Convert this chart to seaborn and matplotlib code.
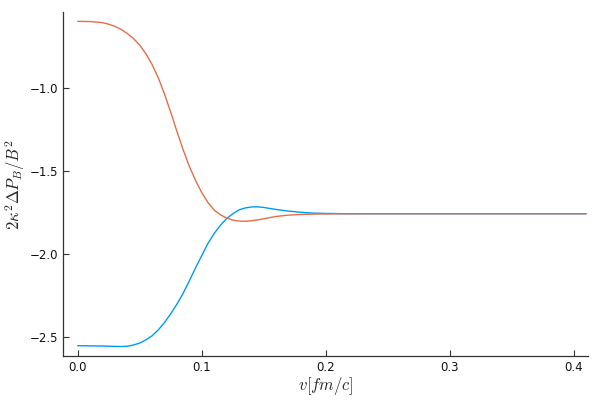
import numpy as np
import pandas as pd
import matplotlib
matplotlib.use('Agg')
import matplotlib.pyplot as plt
import seaborn as sns

# velocity grid and the two curves
v = [0.0, 0.01, 0.02, 0.025, 0.03, 0.035, 0.04, 0.045, 0.05, 0.055, 0.06,
     0.065, 0.07, 0.075, 0.08, 0.085, 0.09, 0.095, 0.10, 0.105, 0.11, 0.115,
     0.12, 0.125, 0.13, 0.135, 0.14, 0.145, 0.15, 0.155, 0.16, 0.17, 0.18,
     0.19, 0.20, 0.22, 0.25, 0.30, 0.35, 0.41]
upper = [-0.598, -0.599, -0.606, -0.615, -0.628, -0.646, -0.671, -0.701,
         -0.741, -0.793, -0.858, -0.938, -1.035, -1.145, -1.260, -1.370,
         -1.470, -1.555, -1.628, -1.688, -1.733, -1.762, -1.781, -1.794,
         -1.800, -1.801, -1.798, -1.793, -1.786, -1.779, -1.772, -1.764,
         -1.760, -1.758, -1.757, -1.756, -1.756, -1.756, -1.756, -1.756]
lower = [-2.550, -2.551, -2.552, -2.553, -2.554, -2.555, -2.553, -2.546,
         -2.534, -2.515, -2.490, -2.455, -2.410, -2.358, -2.300, -2.235,
         -2.160, -2.082, -2.008, -1.935, -1.875, -1.826, -1.786, -1.756,
         -1.733, -1.721, -1.715, -1.714, -1.718, -1.724, -1.730, -1.740,
         -1.747, -1.752, -1.754, -1.756, -1.756, -1.756, -1.756, -1.756]

BLUE = '#009AFA'
ORANGE = '#E36F47'

df = pd.DataFrame({'v': v, 'lower': lower, 'upper': upper})

sns.set_style('white')
plt.rcParams['mathtext.fontset'] = 'cm'
plt.rcParams['font.family'] = ['DejaVu Sans']

fig = plt.figure(figsize=(6, 4), dpi=100)
ax = fig.add_axes([0.1045, 0.11, 0.8755, 0.859])

sns.lineplot(data=df, x='v', y='lower', ax=ax, color=BLUE, linewidth=1.0)
sns.lineplot(data=df, x='v', y='upper', ax=ax, color=ORANGE, linewidth=1.0)

ax.set_xlim(-0.0121, 0.4115)
ax.set_ylim(-2.612, -0.544)
ax.set_xticks([0.0, 0.1, 0.2, 0.3, 0.4])
ax.set_yticks([-2.5, -2.0, -1.5, -1.0])
ax.xaxis.set_major_formatter(matplotlib.ticker.FormatStrFormatter('%.1f'))
ax.yaxis.set_major_formatter(matplotlib.ticker.FuncFormatter(
    lambda val, pos: f'{val:.1f}'.replace('-', '\u2212')))

for side in ['top', 'right']:
    ax.spines[side].set_visible(False)
for side in ['left', 'bottom']:
    ax.spines[side].set_color('#333333')
    ax.spines[side].set_linewidth(0.9)

ax.tick_params(direction='in', length=4, width=0.8, color='#333333',
               labelsize=8.5, labelcolor='#111111', left=True, bottom=True)
ax.set_xlabel(r'$v[fm/c]$', fontsize=12, labelpad=1)
ax.set_ylabel(r'$2\kappa^2\Delta P_B/B^2$', fontsize=12, labelpad=2)

fig.savefig('out.png', dpi=100)
